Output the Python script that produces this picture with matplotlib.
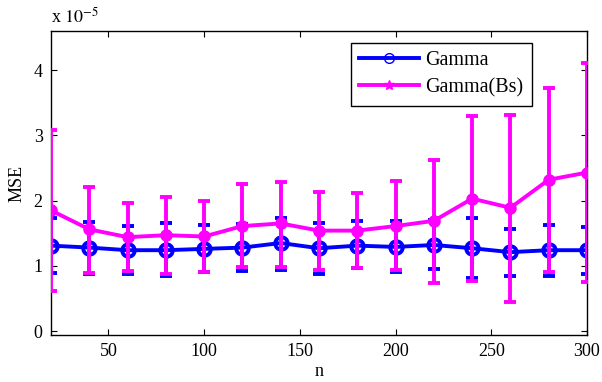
"""
MSE vs n for Gamma and Gamma(Bs) estimators, with error bars
"""
import numpy as np
import matplotlib
matplotlib.use("Agg")
import matplotlib.pyplot as plt
from matplotlib.lines import Line2D

n = [20, 40, 60, 80, 100, 120, 140, 160, 180, 200, 220, 240, 260, 280, 300]

# values in units of 1e-5
gamma_mean = [1.31, 1.28, 1.24, 1.24, 1.26, 1.28, 1.35, 1.27, 1.31, 1.29, 1.32, 1.27, 1.21, 1.24, 1.24]
gamma_upper = [1.73, 1.67, 1.61, 1.65, 1.62, 1.64, 1.74, 1.65, 1.68, 1.69, 1.70, 1.73, 1.56, 1.62, 1.59]
gamma_lower = [0.89, 0.88, 0.87, 0.84, 0.90, 0.92, 0.94, 0.88, 0.96, 0.90, 0.95, 0.82, 0.85, 0.84, 0.88]

bs_mean = [1.85, 1.56, 1.44, 1.47, 1.45, 1.61, 1.65, 1.54, 1.54, 1.61, 1.69, 2.03, 1.89, 2.32, 2.43]
bs_upper = [3.08, 2.21, 1.97, 2.06, 1.99, 2.25, 2.29, 2.13, 2.12, 2.30, 2.63, 3.29, 3.32, 3.73, 4.11]
bs_lower = [0.62, 0.89, 0.92, 0.87, 0.91, 0.98, 0.98, 0.94, 0.96, 0.93, 0.74, 0.77, 0.44, 0.91, 0.75]


def plot_data():
    plt.rcParams['font.family'] = ['Liberation Serif', 'DejaVu Serif']
    plt.rcParams['font.size'] = 13
    fig = plt.figure(figsize=(6.02, 3.82), dpi=100)
    ax = fig.add_axes([51 / 602, 1 - 335 / 382, (587 - 51) / 602, (335 - 31) / 382])

    scale = 1e-5
    x = np.array(n)
    gm = np.array(gamma_mean)
    bm = np.array(bs_mean)
    g_err = [gm - np.array(gamma_lower), np.array(gamma_upper) - gm]
    b_err = [bm - np.array(bs_lower), np.array(bs_upper) - bm]

    ax.errorbar(x, gm * scale, yerr=np.array(g_err) * scale, color='blue', lw=2.8,
                marker='o', ms=9, mfc='none', mec='blue', mew=2.8,
                elinewidth=2.8, capsize=4, capthick=2.8, zorder=2)
    ax.errorbar(x, bm * scale, yerr=np.array(b_err) * scale, color='magenta', lw=2.8,
                marker='o', ms=8, mfc='magenta', mec='magenta',
                elinewidth=2.8, capsize=4, capthick=2.8, zorder=3)

    ax.set_xlim(20, 300)
    ax.set_ylim(-0.06e-5, 4.6e-5)
    ax.set_xticks([50, 100, 150, 200, 250, 300])
    ax.set_yticks(np.arange(0, 5) * scale)
    ax.set_yticklabels(['0', '1', '2', '3', '4'])
    ax.tick_params(direction='in', length=4, width=0.8, top=True, right=True, pad=6)
    for s in ax.spines.values():
        s.set_linewidth(1.0)

    ax.set_xlabel('n', labelpad=2)
    ax.set_ylabel('MSE', labelpad=6)
    ax.text(0.0, 1.015, r'x $10^{-5}$', transform=ax.transAxes, ha='left', va='bottom',
            fontsize=13, math_fontfamily='stix')

    handles = [
        Line2D([], [], color='blue', lw=2.8, marker='o', ms=7, mfc='none', mew=1),
        Line2D([], [], color='magenta', lw=2.8, marker='*', ms=7, mew=1),
    ]
    leg = ax.legend(handles, ['Gamma', 'Gamma(Bs)'], loc='upper left',
                    bbox_to_anchor=((351 - 51) / 536, 1 - (43 - 31) / 304),
                    borderaxespad=0, fontsize=14.5,
                    fancybox=False, edgecolor='black', framealpha=1,
                    handlelength=3.0, handletextpad=0.3, borderpad=0.4, labelspacing=0.4)
    leg.get_frame().set_linewidth(1.0)

    fig.savefig('out.png', dpi=100)


def main():
    plot_data()


if __name__ == "__main__":
    main()
